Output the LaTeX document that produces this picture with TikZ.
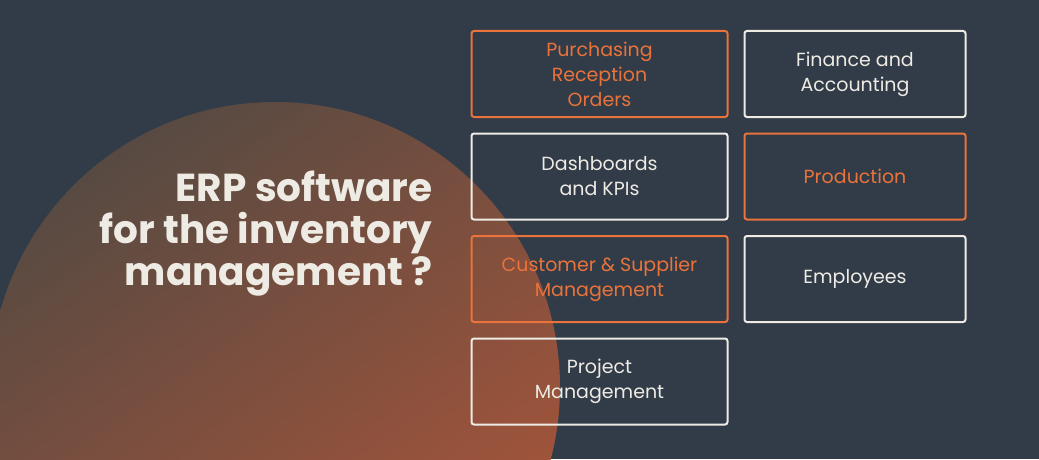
\documentclass[tikz,border=0pt]{standalone}
\usepackage{fontspec}
\setmainfont{Poppins}
\usepackage{xcolor}
\usetikzlibrary{positioning}
\definecolor{bgdark}{HTML}{323C48}
\definecolor{erporange}{HTML}{E9733A}
\definecolor{erpwhite}{HTML}{EEEBE4}
\definecolor{circlow}{HTML}{A9553A}
\definecolor{circhigh}{HTML}{574A42}
\tikzset{
    module/.style={draw=#1, line width=2pt, rounded corners=2.5pt, minimum height=86pt,
        align=center, font=\fontsize{19}{25}\selectfont, text=#1, inner sep=0pt},
    leftmod/.style={module=#1, minimum width=256pt},
    rightmod/.style={module=#1, minimum width=221pt}
}
\begin{document}
\begin{tikzpicture}[x=1pt,y=1pt]
    % background
    \fill[bgdark] (0,0) rectangle (1039,459);
    \useasboundingbox (0,0) rectangle (1039,459);
    % orange disc
    \begin{scope}
        \clip (0,0) rectangle (1039,459);
        \shade[top color=circhigh, bottom color=circlow, shading angle=35]
            (275,72) circle (285);
    \end{scope}

    % title
    \node[anchor=east, align=right, text=erpwhite, font=\fontsize{39}{42}\selectfont\bfseries]
        (title) at (436,225) {ERP software\\for the inventory\\management ?};

    % left column
    \node[leftmod=erporange] (purch) at (599.5,385) {Purchasing\\Reception\\Orders};
    \node[leftmod=erpwhite, below=14.5pt of purch] (dash) {Dashboards\\and KPIs};
    \node[leftmod=erporange, below=14.5pt of dash] (cust) {Customer \& Supplier\\Management};
    \node[leftmod=erpwhite, below=14.5pt of cust] (proj) {Project\\Management};

    % right column
    \node[rightmod=erpwhite] (fin) at (855,385) {Finance and\\Accounting};
    \node[rightmod=erporange, below=14.5pt of fin] (prod) {Production};
    \node[rightmod=erpwhite, below=14.5pt of prod] (empl) {Employees};
\end{tikzpicture}
\end{document}
